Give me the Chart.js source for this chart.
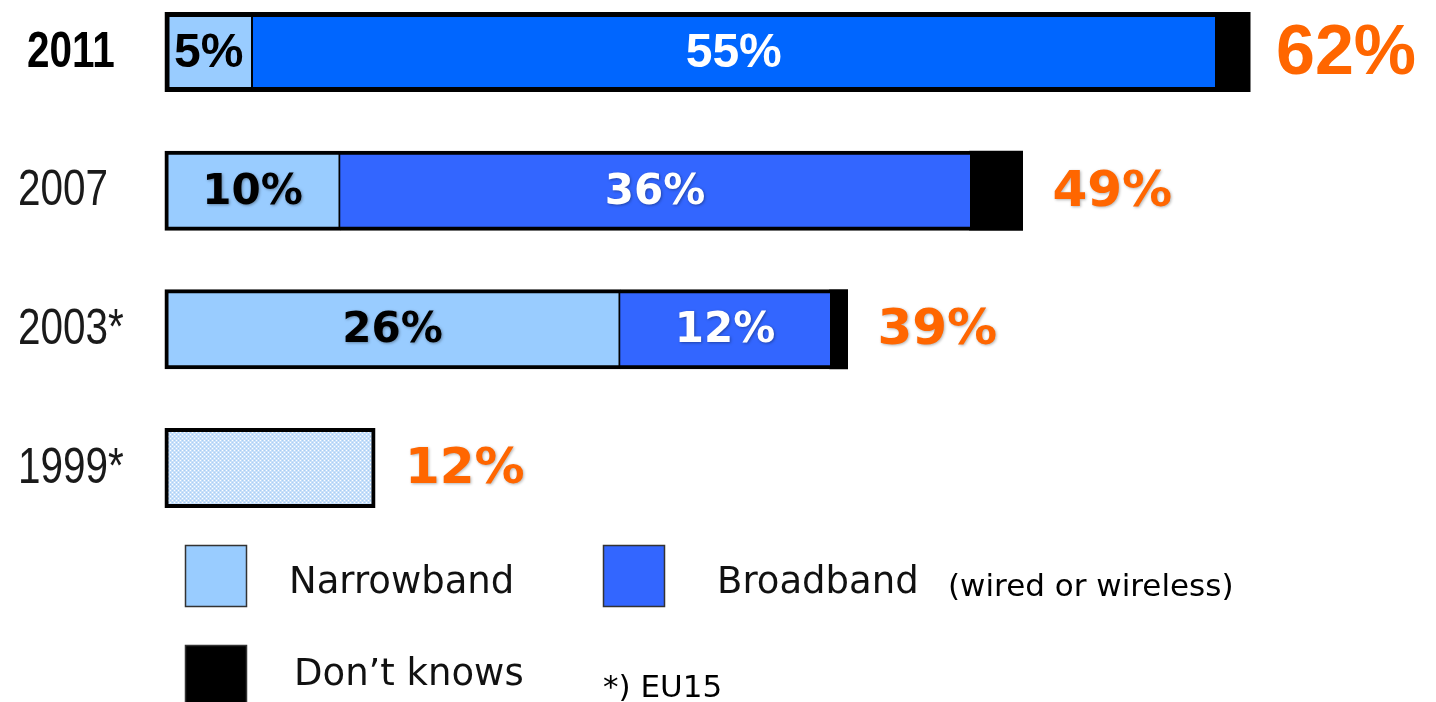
<!DOCTYPE html>
<html>
<head>
<meta charset="utf-8">
<script src="https://cdn.jsdelivr.net/npm/chart.js@4.4.1/dist/chart.umd.min.js"></script>
<style>
  html, body { margin: 0; padding: 0; background: #fff; }
  #wrap { position: relative; width: 1436px; height: 702px; overflow: hidden; }
</style>
</head>
<body>
<div id="wrap"><canvas id="c" width="1436" height="702"></canvas></div>
<script>
// ---- data ----
const categories = ['2011', '2007', '2003*', '1999*'];
const seriesNames = ['Narrowband', 'Broadband', 'Don\u2019t knows'];
const narrowband = [5, 10, 26, 12];
const broadband = [55, 36, 12, null];
const dontKnows = [2, 3, 1, null];
const broadbandNote = '(wired or wireless)';
const footNote = '*) EU15';

// ---- styles ----
const NARROW = '#99ccff';
const BROAD_2011 = '#0066ff';
const BROAD = '#3366ff';
const ORANGE = '#ff6600';

function dottedPattern() {
  const p = document.createElement('canvas');
  p.width = 4; p.height = 4;
  const g = p.getContext('2d');
  g.fillStyle = '#c8e0fa'; g.fillRect(0, 0, 4, 4);
  g.fillStyle = '#ffffff'; g.fillRect(0, 0, 1, 1); g.fillRect(2, 2, 1, 1);
  g.fillStyle = '#aacff5'; g.fillRect(2, 0, 1, 1); g.fillRect(0, 2, 1, 1);
  return g.createPattern(p, 'repeat');
}
const pattern = dottedPattern();

const hasStack = (i) => broadband[i] !== null;

function borderFor(ds) {
  return (ctx) => {
    const i = ctx.dataIndex;
    const outer = i === 0 ? 5 : 4;
    if (ds === 0) return { top: outer, bottom: outer, left: outer, right: hasStack(i) ? 2 : outer };
    if (ds === 1) return { top: outer, bottom: outer, left: 0, right: 0 };
    return 0; // black segment: its fill is the frame
  };
}

const labelPlugin = {
  id: 'labels',
  afterDatasetsDraw(chart) {
    const ctx = chart.ctx;
    const metas = [0, 1, 2].map(d => chart.getDatasetMeta(d));
    const yScale = chart.scales.y;
    ctx.save();
    ctx.textBaseline = 'middle';
    ctx.textAlign = 'center';
    categories.forEach((cat, i) => {
      const big = i === 0;
      // category labels (condensed, like the original narrow typeface)
      ctx.save();
      ctx.textAlign = 'left';
      ctx.fillStyle = big ? '#000' : '#1a1a1a';
      ctx.font = (big ? 'bold ' : '') + '50px "Liberation Sans", Arial, sans-serif';
      const ty = yScale.getPixelForTick(i);
      ctx.translate(big ? 27 : 18, ty + 1);
      ctx.scale(0.81, 1);
      ctx.fillText(cat, 0, 0);
      ctx.restore();
      // inside labels
      if (hasStack(i)) {
        [0, 1].forEach(d => {
          const el = metas[d].data[i];
          const v = chart.data.datasets[d].data[i];
          if (v === null) return;
          ctx.save();
          if (big) {
            ctx.font = 'bold 48px "Liberation Sans", Arial, sans-serif';
          } else {
            ctx.font = 'bold 42px "DejaVu Sans", Verdana, sans-serif';
            ctx.shadowColor = 'rgba(0,0,0,0.35)';
            ctx.shadowBlur = 3; ctx.shadowOffsetX = 1; ctx.shadowOffsetY = 1;
          }
          ctx.fillStyle = d === 0 ? '#000' : '#fff';
          ctx.fillText(v + '%', (el.x + el.base) / 2, el.y + 2);
          ctx.restore();
        });
      }
      // total labels
      let total = 0, endX = 0, y = 0;
      [0, 1, 2].forEach(d => {
        const v = chart.data.datasets[d].data[i];
        if (v !== null) { total += v; endX = Math.max(endX, metas[d].data[i].x); y = metas[d].data[i].y; }
      });
      ctx.save();
      ctx.textAlign = 'left';
      ctx.fillStyle = ORANGE;
      if (big) {
        ctx.font = 'bold 70px "Liberation Sans", Arial, sans-serif';
        ctx.fillText(total + '%', endX + 26, y + 3);
      } else {
        ctx.font = 'bold 50px "DejaVu Sans", Verdana, sans-serif';
        ctx.shadowColor = 'rgba(0,0,0,0.3)';
        ctx.shadowBlur = 3; ctx.shadowOffsetX = 1; ctx.shadowOffsetY = 1;
        ctx.fillText(total + '%', endX + 30, y + 2);
      }
      ctx.restore();
    });
    ctx.restore();
  },
  afterDraw(chart) {
    // custom legend built from the datasets
    const ctx = chart.ctx;
    const ds = chart.data.datasets;
    const items = [
      { sq: [185, 545], tx: [289, 593], label: ds[0].label, color: NARROW },
      { sq: [603, 545], tx: [717, 593], label: ds[1].label, color: BROAD },
      { sq: [185, 645], tx: [294, 685], label: ds[2].label, color: '#000' }
    ];
    ctx.save();
    items.forEach(it => {
      ctx.fillStyle = it.color;
      ctx.fillRect(it.sq[0], it.sq[1], 62, 62);
      ctx.strokeStyle = '#333';
      ctx.lineWidth = 1.5;
      ctx.strokeRect(it.sq[0] + 0.5, it.sq[1] + 0.5, 61, 61);
      ctx.fillStyle = '#111';
      ctx.font = '37px "DejaVu Sans", Verdana, sans-serif';
      ctx.textAlign = 'left';
      ctx.textBaseline = 'alphabetic';
      ctx.fillText(it.label, it.tx[0], it.tx[1]);
    });
    ctx.fillStyle = '#000';
    ctx.font = '31px "DejaVu Sans", Verdana, sans-serif';
    ctx.fillText(broadbandNote, 948, 596);
    ctx.fillText(footNote, 603, 697);
    ctx.restore();
  }
};

new Chart(document.getElementById('c'), {
  type: 'bar',
  data: {
    labels: categories,
    datasets: [
      {
        label: seriesNames[0],
        data: narrowband,
        backgroundColor: (ctx) => hasStack(ctx.dataIndex) ? NARROW : pattern,
        borderColor: '#000',
        borderWidth: borderFor(0)
      },
      {
        label: seriesNames[1],
        data: broadband,
        backgroundColor: (ctx) => ctx.dataIndex === 0 ? BROAD_2011 : BROAD,
        borderColor: '#000',
        borderWidth: borderFor(1)
      },
      {
        label: seriesNames[2],
        data: dontKnows,
        backgroundColor: '#000',
        borderColor: '#000',
        borderWidth: borderFor(2)
      }
    ]
  },
  options: {
    indexAxis: 'y',
    responsive: false,
    animation: false,
    devicePixelRatio: 1,
    clip: false,
    layout: { padding: { left: 18, right: 11, top: 52, bottom: 234 } },
    datasets: { bar: { barThickness: 79, borderSkipped: false, inflateAmount: 0.5, clip: false } },
    plugins: { legend: { display: false }, tooltip: { enabled: false } },
    scales: {
      x: { stacked: true, min: 0, max: 72, display: false },
      y: {
        stacked: true,
        offset: false,
        grid: { display: false },
        border: { display: false },
        afterFit: (scale) => { scale.width = 147; },
        ticks: { display: false }
      }
    }
  },
  plugins: [labelPlugin]
});
</script>
</body>
</html>
